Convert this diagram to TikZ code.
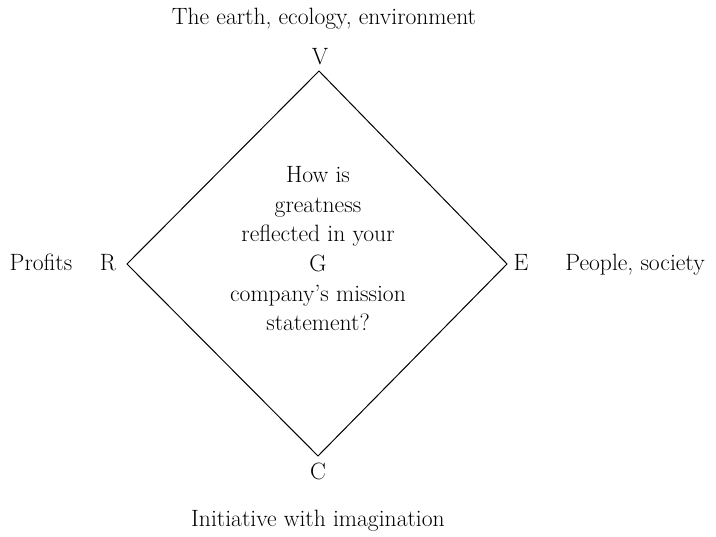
\documentclass[tikz,border=0pt]{standalone}
\begin{document}
\begin{tikzpicture}[x=1pt,y=1pt,
  txt/.style={inner sep=0pt,anchor=base,font=\fontsize{23.6}{29.6}\selectfont},
  corner/.style={txt},
  edge/.style={line width=1pt}]
\useasboundingbox (0,0) rectangle (716,537);
% diamond corners
\coordinate (top) at (319,466);
\coordinate (lft) at (127,273);
\coordinate (rgt) at (507,273);
\coordinate (bot) at (318,81);
\draw[edge,line join=miter] (top) -- (rgt) -- (bot) -- (lft) -- cycle;
% corner letters
\node[corner] (V) at (320,472) {V};
\node[corner] (R) at (108,266) {R};
\node[corner] (E) at (521,266) {E};
\node[corner] (C) at (318,57) {C};
% outer labels
\node[txt] (earth) at (324,512) {The earth, ecology, environment};
\node[txt] (profits) at (41,266) {Profits};
\node[txt] (people) at (635,266) {People, society};
\node[txt] (init) at (318,10) {Initiative with imagination};
% central question, one line per node
\node[txt] (q1) at (318,354) {How is};
\node[txt] (q2) at (318,324) {greatness};
\node[txt] (q3) at (318,295) {reflected in your};
\node[txt] (G)  at (318,265) {G};
\node[txt] (q4) at (318,235) {company's mission};
\node[txt] (q5) at (318,206) {statement?};
\end{tikzpicture}
\end{document}
